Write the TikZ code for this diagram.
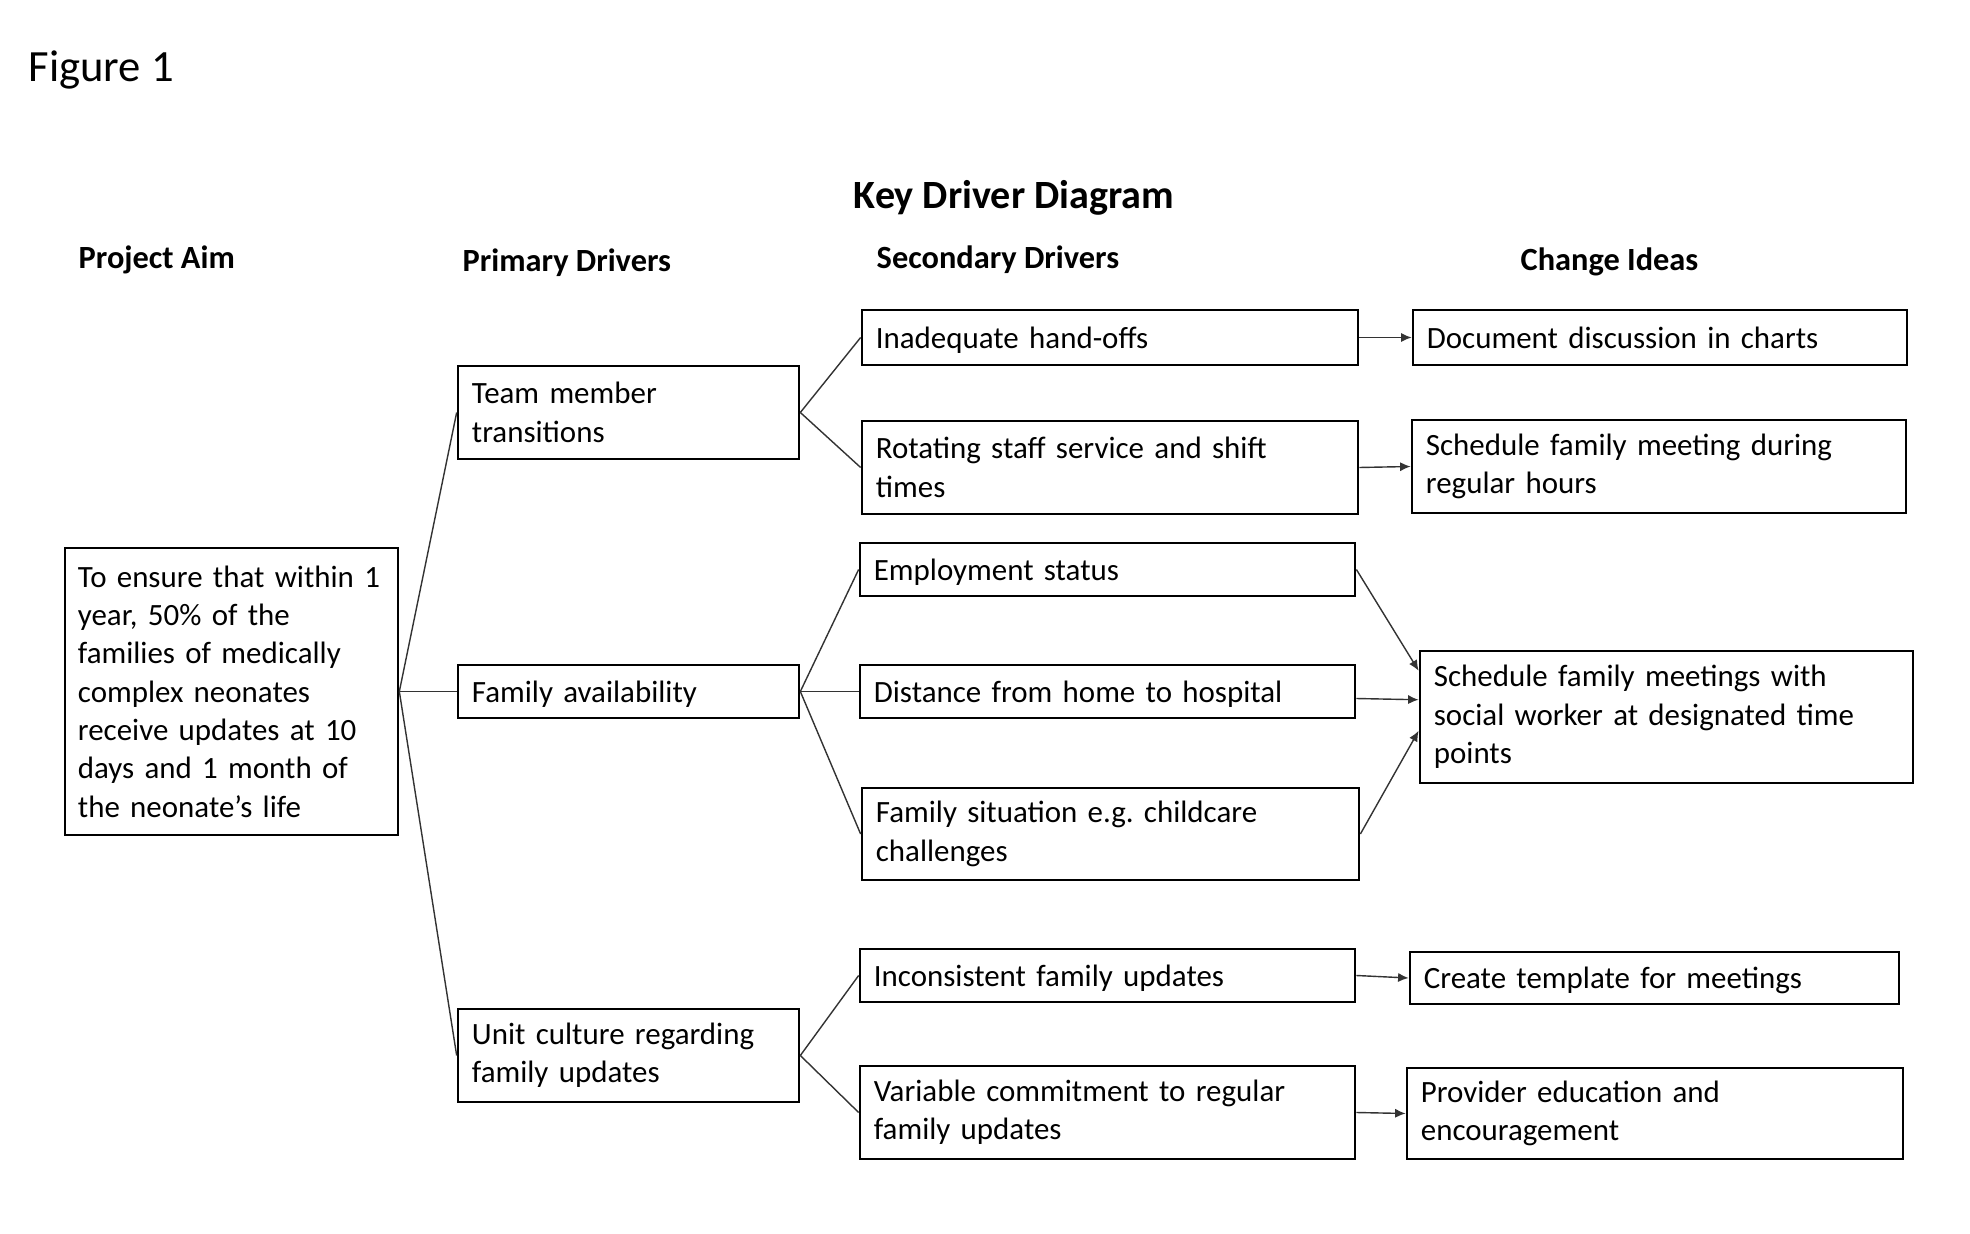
\documentclass[tikz,border=0pt]{standalone}
\usepackage{fontspec}
\setmainfont{Carlito}
\usetikzlibrary{arrows.meta}
\frenchspacing
\begin{document}
\begin{tikzpicture}[x=0.01cm,y=-0.01cm,
  font=\fontsize{8.8}{10.9}\selectfont,
  box/.style={draw,line width=0.7pt,align=left,inner xsep=0.14cm,inner ysep=0pt},
  oneline/.style={box,text height=7pt,text depth=1pt},
  head/.style={font=\fontsize{9.2}{11}\selectfont\bfseries,anchor=base west,inner sep=0pt},
  link/.style={black!80,line width=0.4pt},
  tolink/.style={link,-{Latex[length=3pt,width=2.6pt]}}]
  \useasboundingbox (0,0) rectangle (1970,1234);
  \node[anchor=base west,inner sep=0pt,font=\fontsize{12.7}{15}\selectfont] (fig) at (28,82) {Figure 1};
  \node[anchor=base,inner sep=0pt,font=\fontsize{11.4}{13.5}\selectfont\bfseries] (title) at (1014,209) {Key Driver Diagram};
  \node[head] (haim) at (78,269) {Project Aim};
  \node[head] (hprim) at (462,272) {Primary Drivers};
  \node[head] (hsec) at (876,269) {Secondary Drivers};
  \node[head] (hidea) at (1520,271) {Change Ideas};

  \node[box,inner xsep=0.13cm,text width=3.07cm,minimum height=2.87cm] (aim) at (231.5,691.5) {To ensure that within 1\\year, 50\% of the\\families of medically\\complex neonates\\receive updates at 10\\days and 1 month of\\the neonate’s life};

  \node[box,text width=3.13cm,minimum height=0.93cm] (team) at (628.5,412.5) {Team member\\transitions};
  \node[oneline,text width=3.13cm,minimum height=0.53cm] (fam) at (628.5,691.5) {Family availability};
  \node[box,text width=3.13cm,minimum height=0.93cm] (unit) at (628.5,1055.5) {Unit culture regarding\\family updates};

  \node[oneline,text width=4.68cm,minimum height=0.55cm] (inad) at (1110,337.5) {Inadequate hand-offs};
  \node[box,text width=4.68cm,minimum height=0.93cm] (rot) at (1110,467.5) {Rotating staff service and shift\\times};
  \node[oneline,text width=4.67cm,minimum height=0.53cm] (emp) at (1107.5,569.5) {Employment status};
  \node[oneline,text width=4.67cm,minimum height=0.53cm] (dist) at (1107.5,691.5) {Distance from home to hospital};
  \node[box,text width=4.69cm,minimum height=0.92cm] (fsit) at (1110.5,834) {Family situation e.g. childcare\\challenges};
  \node[oneline,text width=4.67cm,minimum height=0.53cm] (inco) at (1107.5,975.5) {Inconsistent family updates};
  \node[box,text width=4.67cm,minimum height=0.93cm] (vari) at (1107.5,1112.5) {Variable commitment to regular\\family updates};

  \node[oneline,text width=4.66cm,minimum height=0.55cm] (doc) at (1660,337.5) {Document discussion in charts};
  \node[box,text width=4.66cm,minimum height=0.93cm] (sched) at (1659,466.5) {Schedule family meeting during\\regular hours};
  \node[box,text width=4.65cm,minimum height=1.32cm] (social) at (1666.5,717) {Schedule family meetings with\\social worker at designated time\\points};
  \node[oneline,text width=4.61cm,minimum height=0.52cm] (templ) at (1654.5,978) {Create template for meetings};
  \node[box,text width=4.68cm,minimum height=0.91cm] (educ) at (1655,1113.5) {Provider education and\\encouragement};

  \draw[link] (aim.east) -- (team.west);
  \draw[link] (aim.east) -- (fam.west);
  \draw[link] (aim.east) -- (unit.west);
  \draw[link] (team.east) -- (inad.west);
  \draw[link] (team.east) -- (rot.west);
  \draw[link] (fam.east) -- (emp.west);
  \draw[link] (fam.east) -- (dist.west);
  \draw[link] (fam.east) -- (fsit.west);
  \draw[link] (unit.east) -- (inco.west);
  \draw[link] (unit.east) -- (vari.west);

  \draw[tolink] (inad.east) -- (doc.west);
  \draw[tolink] (rot.east) -- (sched.west);
  \draw[tolink] (emp.east) -- ([yshift=-0.21cm]social.north west);
  \draw[tolink] ([yshift=-0.07cm]dist.east) -- ([yshift=-0.5cm]social.north west);
  \draw[tolink] (fsit.east) -- ([yshift=-0.81cm]social.north west);
  \draw[tolink] (inco.east) -- (templ.west);
  \draw[tolink] (vari.east) -- (educ.west);
\end{tikzpicture}
\end{document}
